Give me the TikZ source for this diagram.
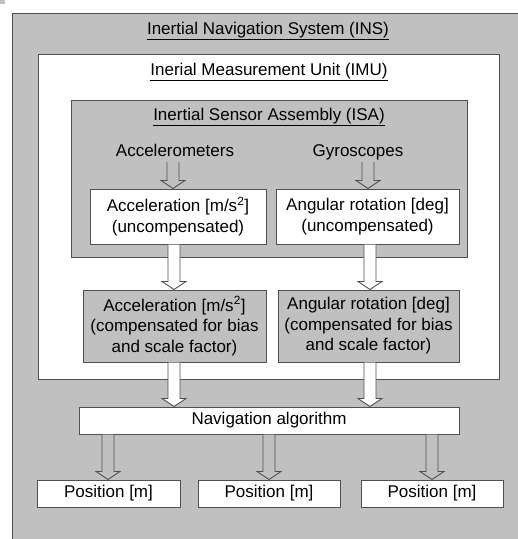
\documentclass[tikz,border=0pt]{standalone}
\usepackage{fontspec}
\setmainfont{Liberation Sans}
\usetikzlibrary{calc}
\definecolor{boxgrey}{HTML}{C0C0C0}
\definecolor{linec}{HTML}{505050}
\tikzset{
  box/.style={draw=linec, line width=1pt, inner sep=0pt, align=center, text=black},
  wbox/.style={box, fill=white},
  gbox/.style={box, fill=boxgrey},
  title/.style={inner sep=0pt, text=black},
  lbl/.style={inner sep=2pt, text height=12pt, text depth=4pt, text=black},
  barrowline/.style={draw=linec, line width=0.9pt, line join=miter},
}
% block arrow: fill, source node, target node, x centre
\newcommand{\barrow}[4]{%
  \path let \p1=(#2.south), \p2=(#3.north) in
    [barrowline, fill=#1]
    (#4-6,\y1) -- (#4-6,\y2+8pt) -- (#4-12,\y2+8pt) -- (#4,\y2)
    -- (#4+12,\y2+8pt) -- (#4+6,\y2+8pt) -- (#4+6,\y1);
}
\begin{document}
\begin{tikzpicture}[x=1pt,y=-1pt,font=\fontsize{17}{20.5}\selectfont]
\useasboundingbox (0,0) rectangle (518,539);
\clip (0,0) rectangle (518,539);
\fill[white] (0,0) rectangle (518,539);
\fill[boxgrey] (0,0) rectangle (5,4);
% containers
\node[gbox, minimum width=520pt, minimum height=540pt, anchor=north west] (ins) at (12,13) {};
\node[wbox, minimum width=461pt, minimum height=325pt, anchor=north west] (imu) at (38,54) {};
\node[gbox, minimum width=396pt, minimum height=157pt, anchor=north west] (isa) at (71,100) {};
\node[title] (inst) at (268,31) {\underline{Inertial Navigation System (INS)}};
\node[title] (imut) at (269,72) {\underline{Inerial Measurement Unit (IMU)}};
\node[title] (isat) at (269,117) {\underline{Inertial Sensor Assembly (ISA)}};
% sensors
\node[lbl] (accl) at (175,152) {Accelerometers};
\node[lbl] (gyrl) at (358,152) {Gyroscopes};
\node[wbox, minimum width=176pt, minimum height=55pt] (acc1) at (178,216.5) {Acceleration [m/s\textsuperscript{2}]\\(uncompensated)};
\node[wbox, minimum width=183pt, minimum height=55pt] (gyr1) at (367.5,216.5) {Angular rotation [deg]\\(uncompensated)};
\node[gbox, minimum width=183pt, minimum height=72pt] (acc2) at (174.5,326) {Acceleration [m/s\textsuperscript{2}]\\(compensated for bias\\and scale factor)};
\node[gbox, minimum width=181pt, minimum height=72pt] (gyr2) at (368.5,326) {Angular rotation [deg]\\(compensated for bias\\and scale factor)};
\node[wbox, minimum width=380pt, minimum height=27pt] (nav) at (269,420.5) {Navigation algorithm};
\node[wbox, minimum width=143pt, minimum height=27pt] (pos1) at (108.5,493.5) {Position [m]};
\node[wbox, minimum width=142pt, minimum height=27pt] (pos2) at (269,493.5) {Position [m]};
\node[wbox, minimum width=142pt, minimum height=27pt] (pos3) at (432,493.5) {Position [m]};
% arrows
\barrow{boxgrey}{accl}{acc1}{173}
\barrow{boxgrey}{gyrl}{gyr1}{368}
\barrow{white}{acc1}{acc2}{174}
\barrow{white}{gyr1}{gyr2}{370}
\barrow{white}{acc2}{nav}{174}
\barrow{white}{gyr2}{nav}{370}
\barrow{boxgrey}{nav}{pos1}{108}
\barrow{boxgrey}{nav}{pos2}{269}
\barrow{boxgrey}{nav}{pos3}{432}
\end{tikzpicture}
\end{document}
